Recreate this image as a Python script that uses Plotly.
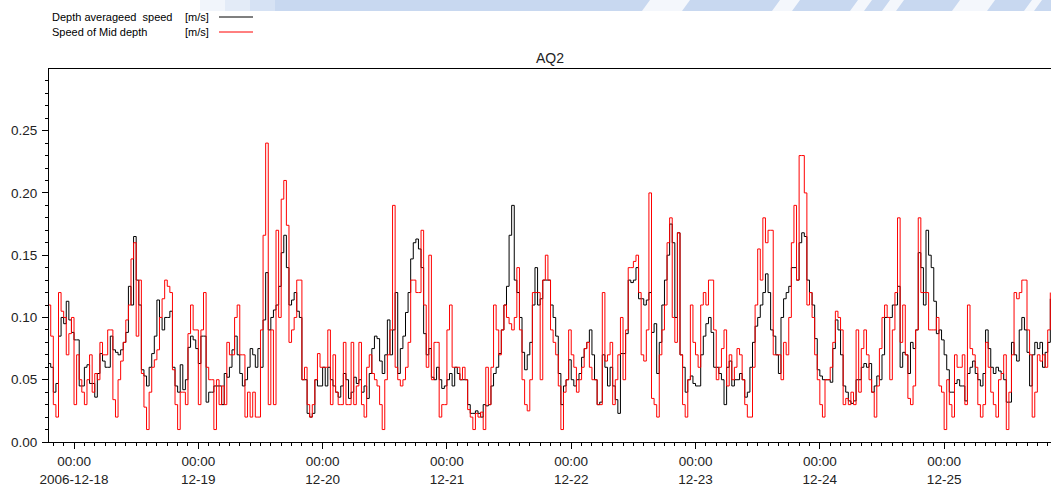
import pandas as pd
import plotly.graph_objects as go

# Half-hourly speed series, AQ2 station, starting 2006-12-17 19:00
start_time = "2006-12-17 19:00"
step = "30min"

depth_avg = [
    0.063, 0.06, 0.04, 0.047, 0.085, 0.10, 0.095, 0.113, 0.098, 0.088,
    0.082, 0.082, 0.045, 0.045, 0.06, 0.062, 0.047, 0.047, 0.036, 0.055,
    0.071, 0.065, 0.06, 0.06, 0.085, 0.074, 0.072, 0.07, 0.074, 0.08,
    0.088, 0.125, 0.11, 0.165, 0.13, 0.11, 0.058, 0.053, 0.045, 0.06,
    0.071, 0.085, 0.114, 0.1, 0.09, 0.1, 0.1, 0.105,
    0.06, 0.045, 0.04, 0.062, 0.042, 0.05, 0.076, 0.085, 0.082, 0.075,
    0.063, 0.085, 0.085, 0.032, 0.04, 0.04, 0.045, 0.045, 0.045, 0.03,
    0.055, 0.052, 0.06, 0.074, 0.085, 0.07, 0.055, 0.045, 0.05, 0.06,
    0.075, 0.07, 0.06, 0.075, 0.06, 0.098, 0.136, 0.09, 0.1, 0.106,
    0.11, 0.125, 0.152, 0.166, 0.14, 0.11, 0.114, 0.12,
    0.105, 0.1, 0.05, 0.05, 0.023, 0.02, 0.023, 0.05, 0.045, 0.045,
    0.06, 0.045, 0.06, 0.05, 0.045, 0.04, 0.036, 0.045, 0.055, 0.05,
    0.035, 0.04, 0.052, 0.047, 0.05, 0.04, 0.045, 0.035, 0.055, 0.075,
    0.085, 0.083, 0.065, 0.055, 0.07, 0.098, 0.07, 0.09, 0.12, 0.055,
    0.075, 0.085, 0.104, 0.12, 0.147, 0.16, 0.163, 0.155,
    0.14, 0.087, 0.07, 0.075, 0.052, 0.05, 0.06, 0.05, 0.043, 0.045,
    0.05, 0.055, 0.045, 0.06, 0.055, 0.05, 0.05, 0.05, 0.03, 0.023,
    0.023, 0.025, 0.023, 0.02, 0.03, 0.029, 0.03, 0.045, 0.055, 0.06,
    0.071, 0.09, 0.11, 0.125, 0.166, 0.19, 0.13, 0.12, 0.1, 0.072,
    0.058, 0.07, 0.08, 0.11, 0.14, 0.11, 0.115, 0.13,
    0.13, 0.13, 0.11, 0.1, 0.085, 0.055, 0.03, 0.045, 0.05, 0.066,
    0.05, 0.045, 0.05, 0.055, 0.068, 0.075, 0.08, 0.09, 0.07, 0.05,
    0.03, 0.032, 0.07, 0.06, 0.045, 0.06, 0.045, 0.034, 0.023, 0.071,
    0.071, 0.087, 0.13, 0.128, 0.13, 0.14, 0.115, 0.115, 0.11, 0.114,
    0.12, 0.088, 0.095, 0.055, 0.08, 0.11, 0.13, 0.15,
    0.175, 0.16, 0.1, 0.168, 0.07, 0.06, 0.04, 0.05, 0.053, 0.047,
    0.045, 0.045, 0.07, 0.085, 0.095, 0.1, 0.088, 0.06, 0.06, 0.055,
    0.05, 0.03, 0.06, 0.065, 0.045, 0.05, 0.05, 0.055, 0.05, 0.036,
    0.04, 0.06, 0.08, 0.093, 0.1, 0.11, 0.12, 0.135, 0.12, 0.09,
    0.085, 0.07, 0.055, 0.1, 0.115, 0.12, 0.125, 0.14,
    0.14, 0.13, 0.16, 0.168, 0.165, 0.13, 0.12, 0.11, 0.083, 0.058,
    0.053, 0.05, 0.05, 0.05, 0.048, 0.075, 0.098, 0.09, 0.07, 0.045,
    0.04, 0.033, 0.031, 0.033, 0.05, 0.05, 0.06, 0.063, 0.06, 0.063,
    0.04, 0.045, 0.053, 0.05, 0.07, 0.1, 0.1, 0.1, 0.11, 0.11,
    0.125, 0.06, 0.072, 0.07, 0.055, 0.08, 0.075, 0.09,
    0.152, 0.14, 0.11, 0.17, 0.15, 0.14, 0.113, 0.087, 0.09, 0.082,
    0.07, 0.058, 0.04, 0.04, 0.047, 0.05, 0.045, 0.045, 0.033, 0.055,
    0.06, 0.065, 0.055, 0.05, 0.045, 0.055, 0.09, 0.075, 0.06, 0.055,
    0.06, 0.057, 0.055, 0.05, 0.032, 0.032, 0.08, 0.07, 0.065, 0.09,
    0.1, 0.09, 0.072, 0.045, 0.07, 0.08, 0.075, 0.08, 0.06, 0.072, 0.08, 0.115,
]

mid_depth = [
    0.11, 0.085, 0.03, 0.02, 0.12, 0.105, 0.10, 0.07, 0.087, 0.10,
    0.03, 0.07, 0.05, 0.04, 0.03, 0.05, 0.07, 0.04, 0.055, 0.05,
    0.08, 0.07, 0.07, 0.09, 0.09, 0.034, 0.02, 0.05, 0.065, 0.08,
    0.098, 0.11, 0.147, 0.16, 0.085, 0.13, 0.055, 0.028, 0.01, 0.04,
    0.06, 0.066, 0.074, 0.10, 0.115, 0.13, 0.125, 0.12,
    0.058, 0.03, 0.01, 0.04, 0.04, 0.03, 0.087, 0.11, 0.09, 0.09,
    0.03, 0.09, 0.12, 0.06, 0.05, 0.05, 0.01, 0.05, 0.03, 0.045,
    0.03, 0.08, 0.07, 0.07, 0.10, 0.11, 0.07, 0.07, 0.02, 0.04,
    0.02, 0.04, 0.02, 0.02, 0.09, 0.166, 0.24, 0.03, 0.09, 0.03,
    0.17, 0.10, 0.195, 0.21, 0.174, 0.08, 0.09, 0.1,
    0.13, 0.13, 0.05, 0.06, 0.03, 0.02, 0.03, 0.05, 0.071, 0.06,
    0.06, 0.06, 0.09, 0.03, 0.07, 0.04, 0.03, 0.03, 0.08, 0.03,
    0.03, 0.08, 0.03, 0.045, 0.08, 0.03, 0.02, 0.06, 0.07, 0.055,
    0.05, 0.045, 0.03, 0.01, 0.05, 0.07, 0.09, 0.19, 0.06, 0.05,
    0.045, 0.05, 0.06, 0.08, 0.13, 0.13, 0.12, 0.12,
    0.17, 0.11, 0.06, 0.15, 0.05, 0.08, 0.08, 0.02, 0.03, 0.03,
    0.09, 0.11, 0.06, 0.06, 0.06, 0.05, 0.06, 0.05, 0.026, 0.02,
    0.01, 0.023, 0.02, 0.024, 0.01, 0.06, 0.03, 0.06, 0.11, 0.09,
    0.07, 0.09, 0.11, 0.1, 0.095, 0.09, 0.1, 0.14, 0.09, 0.05,
    0.03, 0.025, 0.05, 0.12, 0.12, 0.12, 0.05, 0.13,
    0.15, 0.13, 0.09, 0.08, 0.07, 0.045, 0.01, 0.04, 0.05, 0.09,
    0.07, 0.06, 0.04, 0.05, 0.06, 0.075, 0.08, 0.06, 0.05, 0.05,
    0.03, 0.03, 0.12, 0.065, 0.07, 0.08, 0.03, 0.05, 0.07, 0.1,
    0.05, 0.09, 0.14, 0.14, 0.145, 0.15, 0.12, 0.07, 0.065, 0.09,
    0.2, 0.035, 0.03, 0.02, 0.07, 0.09, 0.11, 0.16,
    0.18, 0.1, 0.08, 0.168, 0.07, 0.03, 0.02, 0.05, 0.11, 0.08,
    0.07, 0.06, 0.11, 0.12, 0.11, 0.13, 0.13, 0.09, 0.05, 0.06,
    0.075, 0.09, 0.045, 0.07, 0.05, 0.06, 0.075, 0.07, 0.05, 0.03,
    0.02, 0.02, 0.06, 0.11, 0.155, 0.13, 0.18, 0.16, 0.17, 0.17,
    0.07, 0.07, 0.07, 0.05, 0.08, 0.07, 0.1, 0.16,
    0.19, 0.13, 0.23, 0.23, 0.2, 0.11, 0.12, 0.1, 0.07, 0.05,
    0.03, 0.02, 0.05, 0.05, 0.06, 0.08, 0.105, 0.1, 0.09, 0.03,
    0.035, 0.03, 0.04, 0.03, 0.09, 0.04, 0.075, 0.09, 0.07, 0.05,
    0.04, 0.02, 0.045, 0.075, 0.1, 0.11, 0.1, 0.05, 0.09, 0.12,
    0.18, 0.08, 0.11, 0.07, 0.035, 0.03, 0.045, 0.09,
    0.18, 0.12, 0.12, 0.12, 0.09, 0.09, 0.09, 0.1, 0.045, 0.04,
    0.01, 0.05, 0.03, 0.02, 0.07, 0.06, 0.06, 0.07, 0.03, 0.11,
    0.075, 0.07, 0.06, 0.03, 0.02, 0.03, 0.08, 0.06, 0.04, 0.03,
    0.02, 0.05, 0.055, 0.07, 0.01, 0.04, 0.07, 0.12, 0.115, 0.12,
    0.13, 0.13, 0.09, 0.07, 0.02, 0.04, 0.07, 0.065, 0.07, 0.06, 0.09, 0.12,
]

day_ticks = ["2006-12-18", "2006-12-19", "2006-12-20", "2006-12-21",
             "2006-12-22", "2006-12-23", "2006-12-24", "2006-12-25"]
day_labels = ["00:00<br>2006-12-18", "00:00<br>12-19", "00:00<br>12-20",
              "00:00<br>12-21", "00:00<br>12-22", "00:00<br>12-23",
              "00:00<br>12-24", "00:00<br>12-25"]

t_avg = pd.date_range(start_time, periods=len(depth_avg), freq=step)
t_mid = pd.date_range(start_time, periods=len(mid_depth), freq=step)

FONT = "Liberation Sans, Arial, sans-serif"

fig = go.Figure()
fig.add_trace(go.Scatter(x=t_avg, y=depth_avg, mode="lines",
                         line=dict(color="#000000", width=1, shape="hv"),
                         name="Depth averageed  speed [m/s]"))
fig.add_trace(go.Scatter(x=t_mid, y=mid_depth, mode="lines",
                         line=dict(color="#ff0000", width=1, shape="hv"),
                         name="Speed of Mid depth [m/s]"))

W, H = 1051, 486
L, R, T, B = 49, 0, 69, 44
pw, ph = W - L - R, H - T - B


def px_x(px):
    return (px - L) / pw


def px_y(py):
    return (H - B - py) / ph


fig.update_layout(
    width=W, height=H,
    margin=dict(l=L, r=R, t=T, b=B),
    paper_bgcolor="white", plot_bgcolor="white",
    showlegend=False,
    font=dict(family=FONT, size=12, color="#222"),
    xaxis=dict(
        type="date", automargin=False,
        range=["2006-12-17 19:10", "2006-12-25 20:38"],
        tickmode="array", tickvals=day_ticks, ticktext=day_labels,
        ticks="outside", ticklen=6, tickcolor="#000", tickwidth=1,
        minor=dict(dtick=2 * 3600 * 1000, tick0="2006-12-18", ticks="outside",
                   ticklen=3, tickcolor="#000", tickwidth=1, showgrid=False),
        showline=True, linecolor="#000", linewidth=1, mirror=True,
        showgrid=False, zeroline=False,
        ticklabelstandoff=1,
        tickfont=dict(family=FONT, size=13.5, color="#222"),
    ),
    yaxis=dict(
        automargin=False,
        range=[0, 0.2995],
        tickmode="linear", tick0=0, dtick=0.05, tickformat=".2f",
        ticks="outside", ticklen=6, tickcolor="#000", tickwidth=1,
        minor=dict(dtick=0.01, ticks="outside", ticklen=3,
                   tickcolor="#000", tickwidth=1, showgrid=False),
        showline=True, linecolor="#000", linewidth=1,
        showgrid=False, zeroline=False,
        ticklabelstandoff=2,
        tickfont=dict(family=FONT, size=13.5, color="#222"),
    ),
)

# Pale blue page banner along the top edge, fading in from the left
band_color = "rgb(200,216,240)"
band_bottom = px_y(11)
for i, (x0, x1) in enumerate([(200, 225), (225, 250), (250, 275), (275, 300)]):
    fig.add_shape(type="rect", xref="paper", yref="paper", layer="below",
                  x0=px_x(x0), x1=px_x(x1), y0=band_bottom, y1=px_y(0),
                  fillcolor=band_color, opacity=0.25 * (i + 1), line_width=0)
fig.add_shape(type="rect", xref="paper", yref="paper", layer="below",
              x0=px_x(300), x1=px_x(W), y0=band_bottom, y1=px_y(0),
              fillcolor=band_color, line_width=0)
# white slanted streaks across the banner
for xa, xb in [(650, 690), (780, 800), (858, 872), (890, 904), (960, 995), (1032, 1042)]:
    skew = 8
    path = (f"M {px_x(xa)},{px_y(0)} L {px_x(xb)},{px_y(0)} "
            f"L {px_x(xb - skew)},{band_bottom} L {px_x(xa - skew)},{band_bottom} Z")
    fig.add_shape(type="path", xref="paper", yref="paper", layer="below",
                  path=path, fillcolor="white", opacity=0.8, line_width=0)

# Title
fig.add_annotation(text="AQ2", xref="paper", yref="paper",
                   x=0.5, y=px_y(58), xanchor="center", yanchor="middle",
                   showarrow=False, font=dict(family=FONT, size=14, color="#222"))

# Key in the upper-left corner: label text with a line sample to its right
key_rows = [("Depth averageed  speed", "#000000", 17),
            ("Speed of Mid depth", "#ff0000", 32)]
for label, color, py in key_rows:
    fig.add_annotation(text=label, xref="paper", yref="paper",
                       x=px_x(50), y=px_y(py), xanchor="left", yanchor="middle",
                       showarrow=False, font=dict(family=FONT, size=11, color="#000"))
    fig.add_annotation(text="[m/s]", xref="paper", yref="paper",
                       x=px_x(183), y=px_y(py), xanchor="left", yanchor="middle",
                       showarrow=False, font=dict(family=FONT, size=11, color="#000"))
    fig.add_shape(type="line", xref="paper", yref="paper",
                  x0=px_x(219), x1=px_x(253), y0=px_y(py), y1=px_y(py),
                  line=dict(color=color, width=1))

fig.write_html("out.html")
